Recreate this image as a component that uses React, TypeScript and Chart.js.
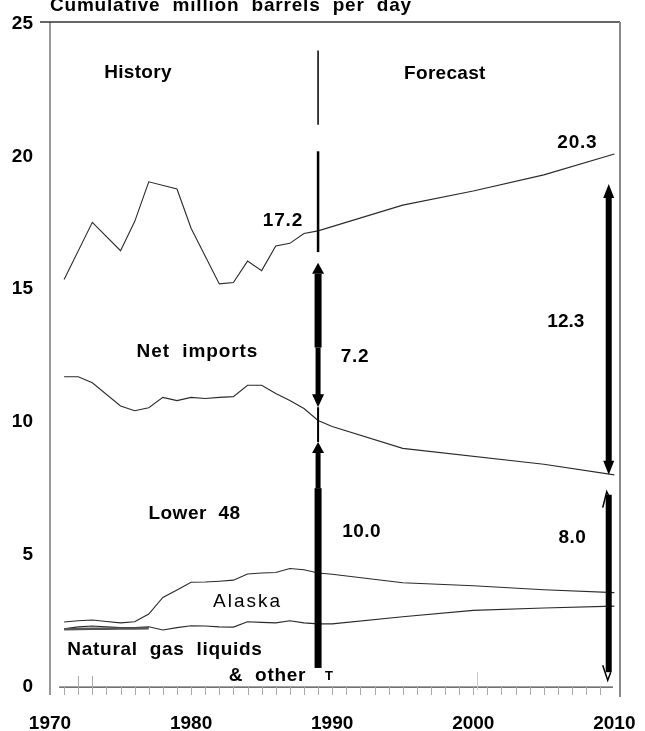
import React, { useEffect, useRef } from "react";
import { Chart, registerables } from "chart.js";

Chart.register(...registerables);

// ---------- data (million barrels per day, cumulative) ----------
const years = [
  1971, 1972, 1973, 1974, 1975, 1976, 1977, 1978, 1979, 1980, 1981, 1982,
  1983, 1984, 1985, 1986, 1987, 1988, 1989, 1990, 1995, 2000, 2005, 2010,
];
// total supply (net imports + domestic)
const totalSupply = [
  15.37, null, 17.52, null, 16.45, 17.55, 19.05, null, 18.78, 17.3, null, 15.2,
  15.25, 16.06, 15.7, 16.63, 16.73, 17.1, 17.2, null, 18.17, 18.7, 19.31, 20.1,
];
// lower 48 + Alaska + NGL (domestic total)
const domesticTop = [
  11.7, 11.7, 11.47, null, 10.6, 10.42, 10.53, 10.92, 10.8, 10.92, 10.88, 10.92,
  10.95, 11.38, 11.38, 11.07, 10.8, 10.5, 10.05, 9.82, 9.0, null, 8.4, 8.0,
];
// Alaska + NGL
const alaskaTop = [
  2.45, 2.5, 2.53, 2.47, 2.42, 2.46, 2.75, 3.38, 3.66, 3.95, 3.96, 3.99,
  4.03, 4.26, 4.3, 4.32, 4.47, 4.42, 4.3, 4.25, 3.93, 3.82, 3.67, 3.56,
];
// natural gas liquids & other
const nglTop = [
  2.2, 2.27, 2.3, 2.27, 2.24, 2.24, 2.27, 2.15, 2.24, 2.31, 2.3, 2.27,
  2.26, 2.46, 2.44, 2.42, 2.5, 2.42, 2.38, 2.38, 2.65, 2.89, 2.98, 3.05,
];
const bandYears = [1971, 1972, 1973, 1974, 1975, 1976, 1977];
const bandValues = [2.18, 2.19, 2.2, 2.2, 2.21, 2.21, 2.22];

const xTickYears = [1970, 1980, 1990, 2000, 2010];
const yTickValues = [0, 5, 10, 15, 20, 25];
const minorTickYears = Array.from({ length: 39 }, (_, i) => 1971 + i);

const titleText = "Cumulative  million  barrels  per  day";

// text annotations in data coordinates (year, value = baseline)
const notes = [
  { text: "History", year: 1976.24, value: 22.95, bold: true, spacing: 0.3 },
  { text: "Forecast", year: 1997.99, value: 22.93, bold: true, spacing: 0.3 },
  { text: "20.3", year: 2007.38, value: 20.31, bold: true, spacing: 0.8 },
  { text: "17.2", year: 1986.51, value: 17.38, bold: true, spacing: 0.8 },
  { text: "Net  imports", year: 1980.45, value: 12.43, bold: true, spacing: 0.9 },
  { text: "7.2", year: 1991.62, value: 12.27, bold: true, spacing: 0.8 },
  { text: "12.3", year: 2006.56, value: 13.59, bold: true, spacing: 0 },
  { text: "Lower  48", year: 1980.24, value: 6.32, bold: true, spacing: 0.5 },
  { text: "10.0", year: 1992.09, value: 5.64, bold: true, spacing: 0.5 },
  { text: "8.0", year: 2007.03, value: 5.42, bold: true, spacing: 0.5 },
  { text: "Alaska", year: 1984.0, value: 3.0, bold: false, spacing: 2 },
  { text: "Natural  gas  liquids", year: 1978.15, value: 1.21, bold: true, spacing: 0.7 },
  { text: "&  other", year: 1985.41, value: 0.23, bold: true, spacing: 0.7 },
];

const FONT = "'Liberation Sans', Arial, sans-serif";

function pts(xs: number[], ys: (number | null)[]) {
  const out: { x: number; y: number }[] = [];
  xs.forEach((x, i) => {
    const v = ys[i];
    if (v !== null && v !== undefined) out.push({ x, y: v });
  });
  return out;
}

function head(ctx: CanvasRenderingContext2D, cx: number, tipY: number, up: boolean, w: number, h: number) {
  const baseY = up ? tipY + h : tipY - h;
  ctx.beginPath();
  ctx.moveTo(cx, tipY);
  ctx.lineTo(cx - w / 2, baseY);
  ctx.lineTo(cx + w / 2, baseY);
  ctx.closePath();
  ctx.fill();
}

function shaft(ctx: CanvasRenderingContext2D, cx: number, y1: number, y2: number, w: number) {
  const top = Math.min(y1, y2);
  ctx.fillRect(cx - w / 2, top, w, Math.abs(y2 - y1));
}

const overlay = {
  id: "overlay",
  afterDatasetsDraw(chart: any) {
    const { ctx, chartArea: a, scales } = chart;
    const xs = scales.x;
    const ys = scales.y;
    const px = (v: number) => xs.getPixelForValue(v);
    const py = (v: number) => ys.getPixelForValue(v);
    ctx.save();

    // frame
    ctx.lineWidth = 1.5;
    ctx.strokeStyle = "#777";
    ctx.beginPath();
    ctx.moveTo(a.left, a.top);
    ctx.lineTo(a.left, a.bottom);
    ctx.stroke();
    ctx.strokeStyle = "#333";
    ctx.beginPath();
    ctx.moveTo(a.left - 10, a.top);
    ctx.lineTo(a.right, a.top);
    ctx.stroke();
    ctx.lineWidth = 2;
    ctx.strokeStyle = "#888";
    ctx.beginPath();
    ctx.moveTo(a.right, a.top);
    ctx.lineTo(a.right, a.bottom + 2);
    ctx.stroke();

    // x axis baseline + minor ticks
    const y0 = py(0);
    ctx.lineWidth = 1.2;
    ctx.strokeStyle = "#444";
    ctx.beginPath();
    ctx.moveTo(px(1970.65), y0);
    ctx.lineTo(px(2009.9), y0);
    ctx.stroke();
    ctx.lineWidth = 1;
    ctx.strokeStyle = "#aaa";
    minorTickYears.forEach((yr) => {
      const xx = Math.round(px(yr)) + 0.5;
      ctx.beginPath();
      ctx.moveTo(xx, y0);
      ctx.lineTo(xx, y0 + 8);
      ctx.stroke();
    });
    [1972, 1973].forEach((yr) => {
      const xx = Math.round(px(yr)) + 0.5;
      ctx.beginPath();
      ctx.moveTo(xx, y0 - 11);
      ctx.lineTo(xx, y0 + 8);
      ctx.stroke();
    });
    ctx.strokeStyle = "#ccc";
    [2000.3].forEach((yr) => {
      const xx = Math.round(px(yr)) + 0.5;
      ctx.beginPath();
      ctx.moveTo(xx, y0 - 15);
      ctx.lineTo(xx, y0 + 3);
      ctx.stroke();
    });

    // arrows at forecast start (1989)
    ctx.fillStyle = "#000";
    const lx = px(1989);
    shaft(ctx, lx, py(24.0), py(21.2), 1.5);
    shaft(ctx, lx, py(20.2), py(16.4), 2.5);
    head(ctx, lx, py(16.0), true, 12, 11);
    shaft(ctx, lx, py(15.6) + 0.5, py(12.8), 7);
    shaft(ctx, lx, py(12.8), py(11.0), 5);
    head(ctx, lx, py(10.55), false, 12, 13);
    shaft(ctx, lx, py(10.55), py(9.24), 2);
    head(ctx, lx, py(9.24), true, 12, 11);
    shaft(ctx, lx, py(8.85), py(7.5), 5);
    shaft(ctx, lx, py(7.5), py(0.72), 7);

    // arrows at 2010
    const rx = px(2009.6);
    head(ctx, rx, py(18.97), true, 11, 14);
    shaft(ctx, rx, py(18.5), py(8.5), 6);
    head(ctx, rx, py(8.0), false, 11, 14);
    shaft(ctx, rx, py(7.25), py(0.56), 6);
    ctx.strokeStyle = "#000";
    ctx.lineWidth = 1.5;
    const tTop = py(7.37);
    ctx.beginPath();
    ctx.moveTo(rx - 6, tTop + 16);
    ctx.lineTo(rx - 2, tTop);
    ctx.lineTo(rx + 2, tTop + 8);
    ctx.stroke();
    const tBot = py(0.26);
    ctx.beginPath();
    ctx.moveTo(rx - 6, tBot - 15);
    ctx.lineTo(rx - 1, tBot);
    ctx.lineTo(rx + 2, tBot - 8);
    ctx.stroke();

    // texts
    ctx.fillStyle = "#000";
    ctx.textAlign = "center";
    ctx.textBaseline = "alphabetic";
    notes.forEach((n) => {
      ctx.font = `${n.bold ? "bold " : ""}19px ${FONT}`;
      (ctx as any).letterSpacing = `${n.spacing}px`;
      ctx.fillText(n.text, px(n.year), py(n.value));
    });
    (ctx as any).letterSpacing = "0px";
    ctx.font = `bold 13px ${FONT}`;
    ctx.fillText("T", px(1989.77), py(0.26));

    // title (partly above the top edge, as in the source)
    ctx.textAlign = "left";
    ctx.font = `bold 19px ${FONT}`;
    (ctx as any).letterSpacing = "0.8px";
    ctx.fillText(titleText, a.left, 11);
    (ctx as any).letterSpacing = "0px";

    ctx.restore();
  },
};

export default function App() {
  const ref = useRef<HTMLCanvasElement>(null);

  useEffect(() => {
    if (!ref.current) return;
    const lineStyle = {
      borderColor: "#2a2a2a",
      borderWidth: 1.1,
      pointRadius: 0,
      tension: 0,
      fill: false,
    };
    const chart = new Chart(ref.current, {
      type: "line",
      data: {
        datasets: [
          { ...lineStyle, label: "Total", data: pts(years, totalSupply) },
          { ...lineStyle, label: "Domestic", data: pts(years, domesticTop) },
          { ...lineStyle, label: "Alaska", data: pts(years, alaskaTop) },
          { ...lineStyle, borderColor: "#555", borderWidth: 2.5, label: "Band", data: pts(bandYears, bandValues) },
          { ...lineStyle, label: "NGL", data: pts(years, nglTop) },
        ],
      },
      plugins: [overlay],
      options: {
        animation: false,
        responsive: false,
        maintainAspectRatio: false,
        layout: { padding: { left: 0, right: 25, top: 22, bottom: 0 } },
        plugins: {
          legend: { display: false },
          tooltip: { enabled: false },
          title: { display: false },
        },
        scales: {
          x: {
            type: "linear",
            min: 1970,
            max: 2010.4,
            grid: { display: false, drawTicks: false },
            border: { display: false },
            afterBuildTicks: (s: any) => {
              s.ticks = xTickYears.map((v) => ({ value: v }));
            },
            afterFit: (s: any) => {
              s.height = 36;
              s.paddingLeft = 0;
              s.paddingRight = 0;
              s.paddingTop = 0;
              s.paddingBottom = 0;
            },
            ticks: {
              color: "#000",
              padding: 17,
              maxRotation: 0,
              autoSkip: false,
              font: { family: FONT, weight: "bold", size: 19 },
              callback: (v: any) => String(v),
            },
          },
          y: {
            type: "linear",
            min: -0.3,
            max: 25.075,
            grid: { display: false, drawTicks: false },
            border: { display: false },
            afterBuildTicks: (s: any) => {
              s.ticks = yTickValues.map((v) => ({ value: v }));
            },
            afterFit: (s: any) => {
              s.width = 50;
              s.paddingLeft = 0;
              s.paddingRight = 0;
              s.paddingTop = 0;
              s.paddingBottom = 0;
            },
            ticks: {
              color: "#000",
              padding: 17,
              font: { family: FONT, weight: "bold", size: 19 },
              callback: (v: any) => String(v),
            },
          },
        },
      },
    } as any);
    return () => chart.destroy();
  }, []);

  return (
    <div style={{ position: "absolute", left: 0, top: 0, width: 645, height: 731, background: "#fff" }}>
      <canvas ref={ref} width={645} height={731} style={{ display: "block", width: 645, height: 731 }} />
    </div>
  );
}
